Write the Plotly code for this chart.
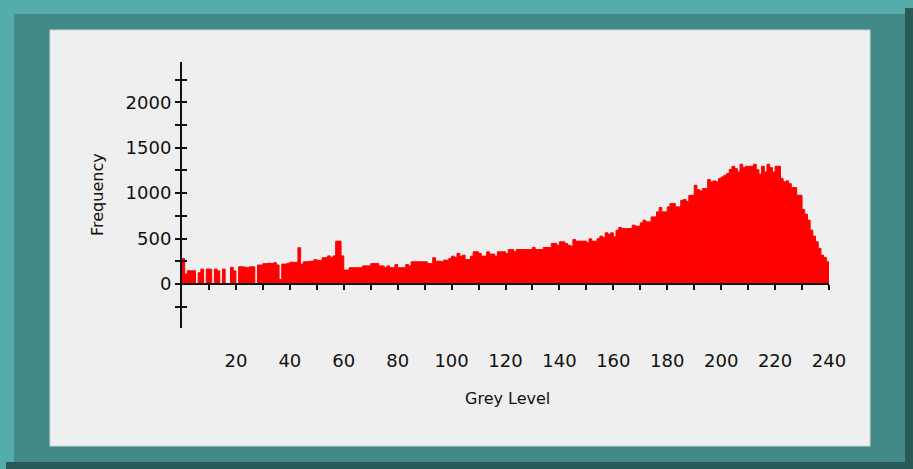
import plotly.graph_objects as go

# ---- data ----
grey_levels = list(range(240))
frequency = [
    280, 110, 146, 146, 146, 0, 125, 165, 0, 165,
    165, 0, 165, 145, 0, 165, 0, 0, 185, 145,
    0, 190, 190, 185, 180, 190, 190, 0, 210, 210,
    225, 225, 230, 225, 235, 210, 50, 220, 220, 230,
    240, 240, 240, 400, 220, 245, 245, 250, 252, 270,
    260, 260, 290, 290, 310, 290, 310, 472, 472, 310,
    155, 155, 180, 180, 180, 180, 180, 200, 200, 200,
    225, 225, 225, 200, 200, 180, 200, 180, 180, 215,
    180, 180, 180, 215, 200, 245, 245, 245, 245, 245,
    245, 225, 225, 290, 252, 252, 245, 263, 263, 282,
    307, 293, 337, 307, 318, 270, 270, 307, 355, 355,
    337, 307, 307, 355, 330, 330, 307, 355, 355, 355,
    337, 380, 380, 355, 380, 380, 380, 380, 380, 380,
    403, 380, 380, 380, 403, 403, 403, 447, 447, 428,
    465, 465, 447, 428, 417, 490, 472, 472, 472, 472,
    454, 498, 472, 472, 500, 527, 512, 564, 549, 564,
    520, 593, 622, 611, 611, 611, 611, 648, 637, 637,
    673, 703, 684, 684, 739, 739, 794, 842, 794, 794,
    849, 886, 886, 849, 849, 922, 930, 908, 977, 977,
    1087, 1039, 1025, 1050, 1050, 1149, 1124, 1135, 1124, 1160,
    1178, 1197, 1215, 1260, 1296, 1270, 1233, 1318, 1281, 1296,
    1296, 1296, 1318, 1259, 1208, 1296, 1233, 1318, 1281, 1233,
    1296, 1296, 1160, 1124, 1135, 1105, 1061, 1061, 977, 977,
    820, 769, 703, 593, 527, 465, 392, 318, 293, 245,
]
x_tick_vals = list(range(20, 241, 20))
x_tick_text = [str(v) for v in x_tick_vals]
x_minor_ticks = list(range(10, 241, 10))
y_tick_vals = list(range(-250, 2251, 250))
y_tick_text = [str(v) if (v >= 0 and v % 500 == 0) else "" for v in y_tick_vals]
x_title = "Grey Level"
y_title = "Frequency"

# ---- geometry (pixels) ----
W, H = 913, 469
PL, PR, PT, PB = 182, 829, 62, 328
pw, ph = PR - PL, PB - PT
y_range = [-483, 2443]
x_range = [0, 240]


def fx(px):
    return (px - PL) / pw


def fy(py):
    return (PB - py) / ph


LIGHT = "#54adab"
MID = "#428a87"
DARK = "#295a58"
PANEL = "#efefef"
FONT = "DejaVu Sans"

fig = go.Figure()
fig.add_trace(go.Bar(
    x=[g + 0.5 for g in grey_levels], y=frequency, width=1,
    marker=dict(color="#ff0000", line=dict(color="#ff0000", width=1)),
    xaxis="x", yaxis="y", hoverinfo="x+y", showlegend=False,
))
fig.add_trace(go.Scatter(x=[None], y=[None], xaxis="x2", yaxis="y2",
                         showlegend=False, hoverinfo="skip"))

shapes = [
    dict(type="rect", xref="paper", yref="paper", x0=fx(0), x1=fx(W), y0=fy(0), y1=fy(14),
         fillcolor=LIGHT, line=dict(width=0), layer="below"),
    dict(type="rect", xref="paper", yref="paper", x0=fx(0), x1=fx(14), y0=fy(0), y1=fy(H),
         fillcolor=LIGHT, line=dict(width=0), layer="below"),
    dict(type="rect", xref="paper", yref="paper", x0=fx(905), x1=fx(W), y0=fy(8), y1=fy(H),
         fillcolor=DARK, line=dict(width=0), layer="below"),
    dict(type="rect", xref="paper", yref="paper", x0=fx(6), x1=fx(W), y0=fy(462), y1=fy(H),
         fillcolor=DARK, line=dict(width=0), layer="below"),
    dict(type="rect", xref="paper", yref="paper", x0=fx(50), x1=fx(870), y0=fy(30), y1=fy(446),
         fillcolor=PANEL, line=dict(width=1, color="#cfd6d6"), layer="below"),
]

fig.update_layout(
    width=W, height=H,
    margin=dict(l=PL, r=W - PR, t=PT, b=H - PB, pad=0, autoexpand=False),
    paper_bgcolor=MID, plot_bgcolor="rgba(0,0,0,0)",
    bargap=0, showlegend=False,
    font=dict(family=FONT, size=18, color="#111111"),
    shapes=shapes,
    xaxis=dict(range=x_range, tickvals=x_tick_vals, ticktext=x_tick_text,
               ticks="", showline=False, showgrid=False, zeroline=False,
               ticklabelstandoff=20, tickfont=dict(size=18, family=FONT),
               fixedrange=True),
    xaxis2=dict(range=x_range, overlaying="x", anchor="free",
                position=(0 - y_range[0]) / (y_range[1] - y_range[0]), side="bottom",
                tickvals=x_minor_ticks, showticklabels=False, ticks="outside",
                ticklen=5, tickwidth=2, tickcolor="#111111",
                showline=True, linecolor="#111111", linewidth=2,
                showgrid=False, zeroline=False, fixedrange=True),
    yaxis=dict(range=y_range, tickvals=y_tick_vals, ticktext=y_tick_text,
               ticks="outside", ticklen=5, tickwidth=2, tickcolor="#111111",
               showline=True, linecolor="#111111", linewidth=2,
               showgrid=False, zeroline=False, tickfont=dict(size=18, family=FONT),
               fixedrange=True),
    yaxis2=dict(range=y_range, overlaying="y", anchor="x", side="left",
                tickvals=y_tick_vals, showticklabels=False, ticks="inside",
                ticklen=5, tickwidth=2, tickcolor="#111111",
                showline=False, showgrid=False, zeroline=False, fixedrange=True),
    annotations=[
        dict(text=y_title, xref="paper", yref="paper", x=fx(97), y=fy(195),
             xanchor="center", yanchor="middle", textangle=-90, showarrow=False,
             font=dict(size=16, family=FONT, color="#111111")),
        dict(text=x_title, xref="paper", yref="paper", x=fx(507), y=fy(398),
             xanchor="center", yanchor="middle", showarrow=False,
             font=dict(size=16, family=FONT, color="#111111")),
    ],
)

fig.write_html("out.html", config={"displayModeBar": False, "staticPlot": True},
               post_script="document.body.style.margin='0';document.body.style.overflow='hidden';")
